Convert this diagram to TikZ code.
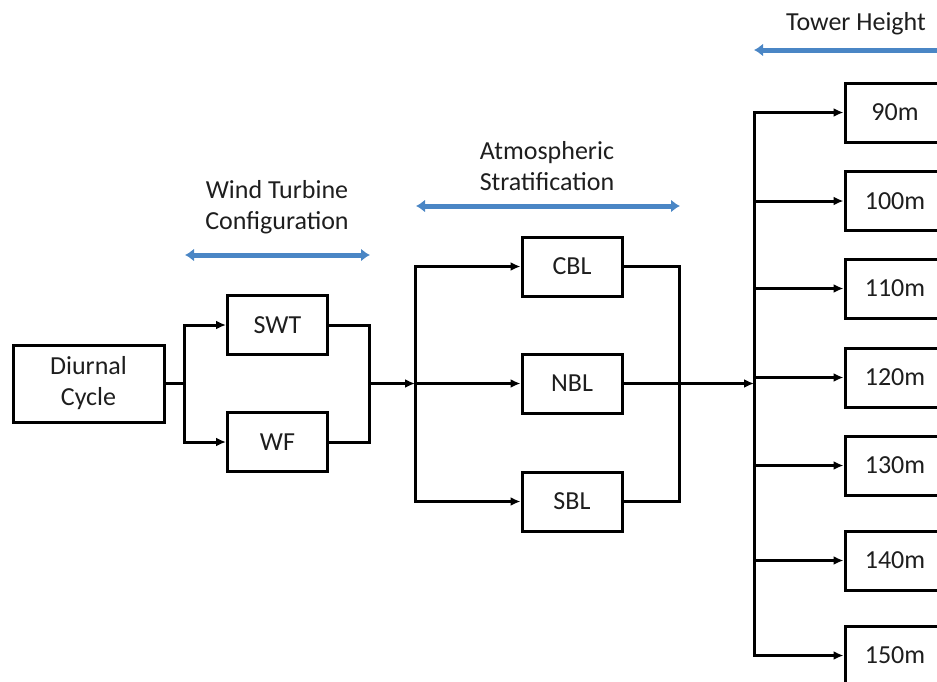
\documentclass[tikz,border=0pt]{standalone}
\usepackage{fontspec}
\setmainfont{Carlito}
\usetikzlibrary{arrows.meta}
\definecolor{myblue}{RGB}{74,134,197}
\definecolor{txt}{RGB}{30,30,30}
\begin{document}
\begin{tikzpicture}[x=1pt,y=-1pt,
  box/.style={draw=black, line width=3pt, minimum width=100pt, minimum height=59pt, inner sep=0pt, align=center, text=txt, font=\fontsize{26}{31}\selectfont},
  conn/.style={line width=3pt},
  arr/.style={line width=3pt, -{Latex[length=10pt,width=9pt]}},
  barr/.style={draw=myblue, line width=5pt, {Latex[length=9pt,width=13pt]}-{Latex[length=9pt,width=13pt]}},
  barrl/.style={draw=myblue, line width=5pt, {Latex[length=9pt,width=13pt]}-},
  lbl/.style={align=center, text=txt, font=\fontsize{26}{31}\selectfont, inner sep=0pt}]
\useasboundingbox (0,0) rectangle (937,681);
\clip (0,0) rectangle (937,681);

% boxes
\node[box, minimum width=151pt, minimum height=77pt] (dc) at (88.5,383.5) {Diurnal\\Cycle};
\node[box] (swt) at (277.5,325) {SWT};
\node[box] (wf) at (277.5,442) {WF};
\node[box] (cbl) at (572,266.5) {CBL};
\node[box] (nbl) at (572,383.5) {NBL};
\node[box] (sbl) at (572,501.5) {SBL};
\node[box] (t90) at (895,112.5) {90m};
\node[box] (t100) at (895,201) {100m};
\node[box] (t110) at (895,288.5) {110m};
\node[box] (t120) at (895,377.5) {120m};
\node[box] (t130) at (895,465.5) {130m};
\node[box] (t140) at (895,560.5) {140m};
\node[box] (t150) at (895,655.5) {150m};

% junctions
\coordinate (j1) at (184,383.5);
\coordinate (j2) at (369,383.5);
\coordinate (j3) at (415,383.5);
\coordinate (j4) at (679,383.5);
\coordinate (j5) at (754,383.5);

\draw[conn] (dc.east) -- (j1);
\draw[arr] (j1) |- (swt.west);
\draw[arr] (j1) |- (wf.west);
\draw[conn] (swt.east) -| (j2) |- (wf.east);
\draw[arr] (j2) -- (j3);
\draw[arr] (j3) |- (cbl.west);
\draw[arr] (j3) -- (nbl.west);
\draw[arr] (j3) |- (sbl.west);
\draw[conn] (cbl.east) -| (j4) |- (sbl.east);
\draw[arr] (nbl.east) -- (j5);
\foreach \t in {t90,t100,t110,t120,t130,t140,t150}
  \draw[arr] (j5) |- (\t.west);

% labels and blue arrows
\node[lbl] (l1) at (277,207) {Wind Turbine\\Configuration};
\coordinate (b1l) at (185,255);
\coordinate (b1r) at (370,255);
\draw[barr] (b1l) -- (b1r);

\node[lbl] (l2) at (547,166) {Atmospheric\\Stratification};
\coordinate (b2l) at (416,206);
\coordinate (b2r) at (680,206);
\draw[barr] (b2l) -- (b2r);

\node[lbl] (l3) at (856,24) {Tower Height};
\coordinate (b3l) at (754,50);
\coordinate (b3r) at (950,50);
\draw[barrl] (b3l) -- (b3r);
\end{tikzpicture}
\end{document}
